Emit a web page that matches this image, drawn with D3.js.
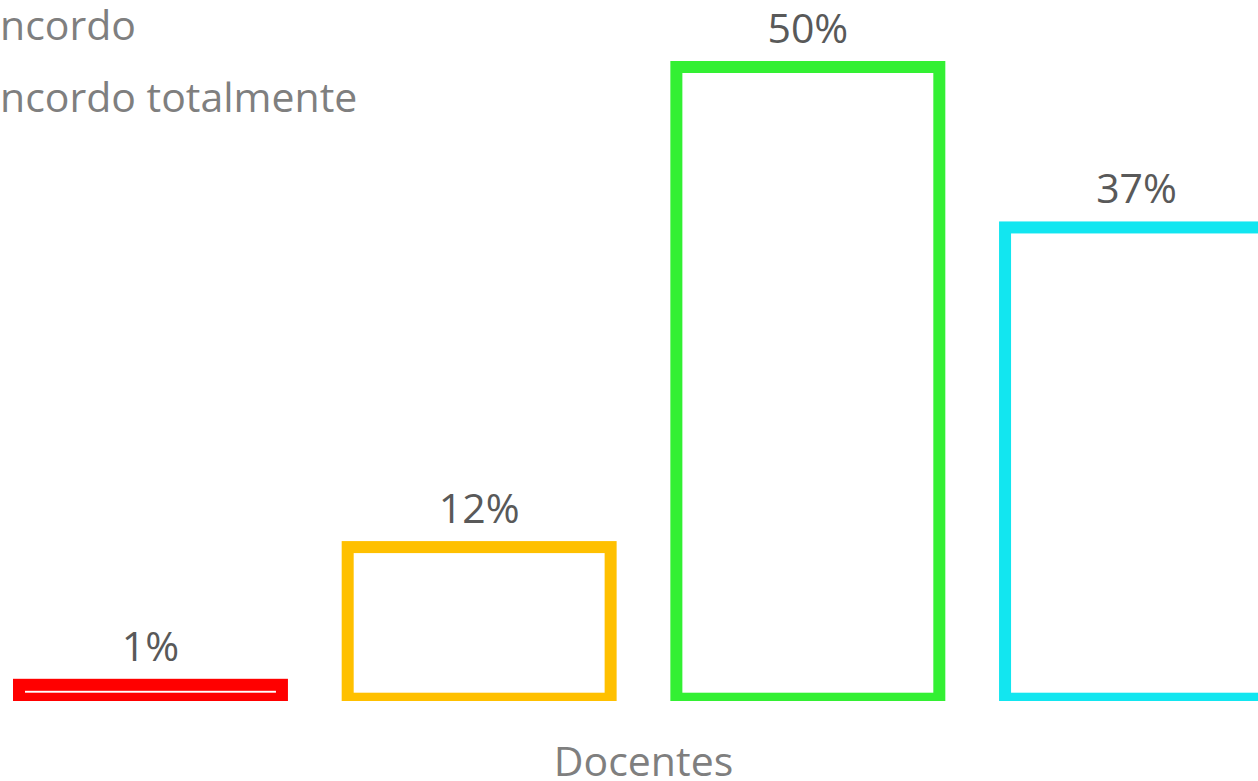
<!DOCTYPE html>
<html>
<head>
<meta charset="utf-8">
<script src="https://cdn.jsdelivr.net/npm/d3@7"></script>
<style>
	body { margin: 0; background: #fff; overflow: hidden; }
</style>
</head>
<body>
<div id="viz"></div>
<script>

var width = 1258
var height = 781

var categories = ["Docentes"];
var series = ["Discordo totalmente", "Discordo", "Concordo", "Concordo totalmente"];
var values = [1.1, 12, 50, 37.3];
var labels = ["1%", "12%", "50%", "37%"];
var colors = ["#FF0000", "#FFC000", "#33F033", "#12E6F0"];

var font = "'Open Sans', sans-serif";

var canvas = d3.select("#viz")
	.append("svg")
	.attr("height", height)
	.attr("width", width);

var baseline = 698.7;

var yScale = d3.scaleLinear()
	.domain([0, 50])
	.range([baseline, 67]);

var groupScale = d3.scaleBand()
	.domain(categories)
	.range([19, 1268]);

var barScale = d3.scaleBand()
	.domain(series)
	.range([0, groupScale.bandwidth()])
	.paddingInner(0.2);

var colorScale = d3.scaleOrdinal()
	.domain(series)
	.range(colors);

// plot area clips the bottom half of the outline
canvas.append("clipPath")
	.attr("id", "plot")
	.append("rect")
	.attr("x", -20)
	.attr("y", 0)
	.attr("width", width + 40)
	.attr("height", 701);

var rows = series.map(function(s, i){
	return {name: s, value: values[i], label: labels[i]};
});

var group = canvas.selectAll(".group")
	.data(categories)
	.enter()
	.append("g")
	.attr("class", "group")
	.attr("transform", function(d){ return "translate(" + groupScale(d) + ",0)"; });

group.append("g")
	.attr("clip-path", "url(#plot)")
	.selectAll("rect")
	.data(rows)
	.enter()
	.append("rect")
	.attr("x", function(d){ return barScale(d.name); })
	.attr("y", function(d){ return yScale(d.value); })
	.attr("width", barScale.bandwidth())
	.attr("height", function(d){ return baseline - yScale(d.value); })
	.attr("fill", "#fff")
	.attr("stroke", function(d){ return colorScale(d.name); })
	.attr("stroke-width", 12);

group.selectAll(".label")
	.data(rows)
	.enter()
	.append("text")
	.attr("class", "label")
	.text(function(d){ return d.label; })
	.attr("x", function(d){ return barScale(d.name) + barScale.bandwidth() / 2; })
	.attr("y", function(d){ return yScale(d.value) - 24; })
	.attr("text-anchor", "middle")
	.attr("font-family", font)
	.attr("font-size", 41)
	.attr("fill", "#595959");

group.append("text")
	.text(function(d){ return d; })
	.attr("x", groupScale.bandwidth() / 2)
	.attr("y", 776)
	.attr("text-anchor", "middle")
	.attr("font-family", font)
	.attr("font-size", 41)
	.attr("fill", "#7f7f7f");

// legend sits partly off the left edge
var probe = canvas.append("text")
	.text("Co")
	.attr("font-family", font)
	.attr("font-size", 41);
var offset = probe.node().getComputedTextLength();
probe.remove();

var legend = canvas.selectAll(".legend")
	.data(series)
	.enter()
	.append("g")
	.attr("class", "legend")
	.attr("transform", function(d, i){ return "translate(" + (-offset) + "," + (40 + (i - 2) * 72) + ")"; });

legend.append("rect")
	.attr("x", -40)
	.attr("y", -26)
	.attr("width", 22)
	.attr("height", 22)
	.attr("fill", "#fff")
	.attr("stroke", function(d){ return colorScale(d); })
	.attr("stroke-width", 6);

legend.append("text")
	.text(function(d){ return d; })
	.attr("x", 0)
	.attr("y", 0)
	.attr("font-family", font)
	.attr("font-size", 41)
	.attr("fill", "#7f7f7f");

</script>
</body>
</html>
